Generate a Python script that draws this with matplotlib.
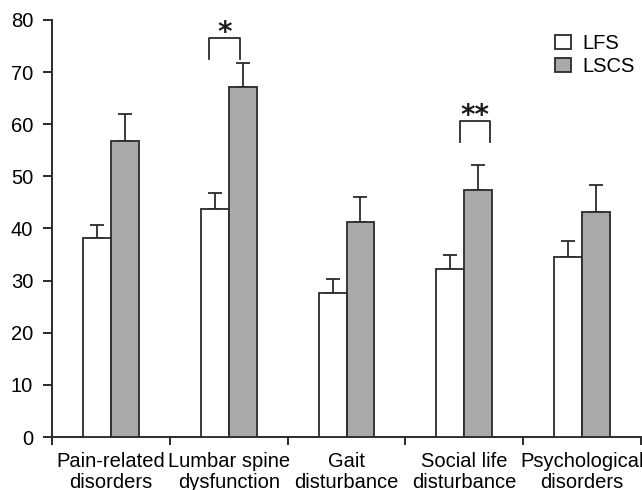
import numpy as np
import matplotlib.pyplot as plt
from matplotlib.patches import Patch

# Domain scores by group (mean and SE, upper error only)
categories = ["Pain-related\ndisorders", "Lumbar spine\ndysfunction", "Gait\ndisturbance",
              "Social life\ndisturbance", "Psychological\ndisorders"]
lfs_mean = [38.1, 43.8, 27.6, 32.2, 34.5]
lfs_err = [2.5, 3.1, 2.7, 2.8, 3.1]
lscs_mean = [56.8, 67.1, 41.3, 47.3, 43.2]
lscs_err = [5.1, 4.6, 4.8, 4.8, 5.1]

# significance markers: (category index, label, bracket top, x shift)
sig_marks = [(1, "*", 76.6, -0.035), (3, "**", 60.6, 0.09)]

GREY = "#a9a9a9"
EDGE = "#2b2b2b"
BAR_W = 0.237
LW = 1.3
FS = 14.5

plt.rcParams["font.family"] = ["Liberation Sans", "DejaVu Sans"]

fig = plt.figure(figsize=(6.42, 4.9), dpi=100)
ax = fig.add_axes([52 / 642, 53 / 490, 589 / 642, 417 / 490])

x = np.arange(len(categories))
ax.bar(x - BAR_W / 2, lfs_mean, BAR_W, color="white", edgecolor=EDGE, linewidth=LW, zorder=3)
ax.bar(x + BAR_W / 2, lscs_mean, BAR_W, color=GREY, edgecolor=EDGE, linewidth=LW, zorder=3)

zeros = [0] * len(x)
ax.errorbar(x - BAR_W / 2, lfs_mean, yerr=[zeros, lfs_err], fmt="none",
            ecolor=EDGE, elinewidth=LW, capsize=4.8, capthick=LW, zorder=2)
ax.errorbar(x + BAR_W / 2, lscs_mean, yerr=[zeros, lscs_err], fmt="none",
            ecolor=EDGE, elinewidth=LW, capsize=4.8, capthick=LW, zorder=2)

# brackets with stars
half = 0.128
for idx, label, top, shift in sig_marks:
    xc = idx + shift
    x0, x1 = xc - half, xc + half
    ax.plot([x0, x0, x1, x1], [top - 4.1, top, top, top - 4.1],
            color=EDGE, linewidth=LW, clip_on=False)
    ax.annotate(label, (xc, top), xytext=(0, -2), textcoords="offset points",
                ha="center", va="baseline", fontsize=20, fontweight="bold",
                family="DejaVu Sans", color="#1a1a1a", annotation_clip=False)

ax.set_xlim(-0.5, len(x) - 0.5)
ax.set_ylim(0, 80)
ax.set_yticks(np.arange(0, 81, 10))
ax.set_xticks(x)
ax.set_xticklabels(categories, linespacing=1.1)
ax.set_xticks(np.arange(-0.5, len(x)), minor=True)

for side in ["top", "right"]:
    ax.spines[side].set_visible(False)
for side in ["left", "bottom"]:
    ax.spines[side].set_linewidth(1.4)
    ax.spines[side].set_color(EDGE)

ax.tick_params(axis="y", length=6.5, width=1.4, color=EDGE, labelsize=FS, pad=7)
ax.tick_params(axis="x", which="major", length=0, labelsize=FS, pad=11)
ax.tick_params(axis="x", which="minor", length=6, width=1.4, color=EDGE)

handles = [Patch(facecolor="white", edgecolor=EDGE, linewidth=LW, label="LFS"),
           Patch(facecolor=GREY, edgecolor=EDGE, linewidth=LW, label="LSCS")]
ax.legend(handles=handles, loc="upper left", bbox_to_anchor=(0.854, 0.967), frameon=False,
          fontsize=FS, handlelength=0.8, handleheight=0.7, handletextpad=0.55,
          labelspacing=0.22, borderpad=0, borderaxespad=0)

fig.savefig("out.png", dpi=100)
